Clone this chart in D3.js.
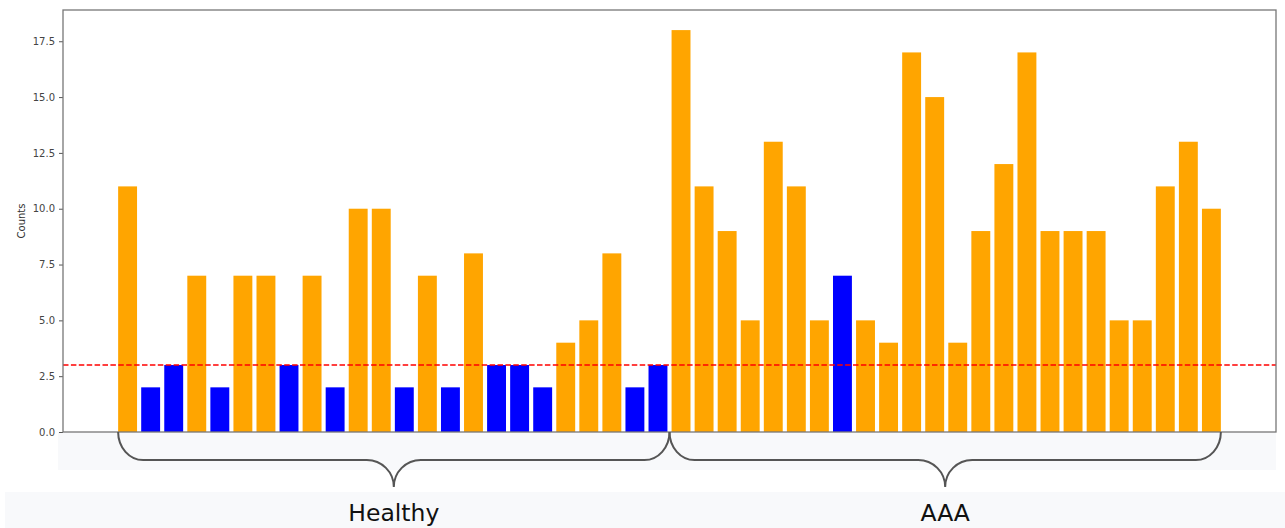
<!DOCTYPE html>
<html>
<head>
<meta charset="utf-8">
<script src="https://cdn.jsdelivr.net/npm/d3@7"></script>
<style>
body{margin:0;background:#fff;}
svg text{font-family:"DejaVu Sans",sans-serif;}
</style>
</head>
<body>
<div id="chart"></div>
<script>
// counts per subject, in plotted order
var healthyCounts = [11,2,3,7,2,7,7,3,7,2,10,10,2,7,2,8,3,3,2,4,5,8,2,3];
var aaaCounts = [18,11,9,5,13,11,5,7,5,4,17,15,4,9,12,17,9,9,9,5,5,11,13,10];
// 1 = flagged (blue), 0 = normal (orange)
var healthyFlag = [0,1,1,0,1,0,0,1,0,1,0,0,1,0,1,0,1,1,1,0,0,0,1,1];
var aaaFlag = [0,0,0,0,0,0,0,1,0,0,0,0,0,0,0,0,0,0,0,0,0,0,0,0];
var groups = ["Healthy","AAA"];
var threshold = 3;
var yTicks = [0,2.5,5,7.5,10,12.5,15,17.5];

var W = 1285, H = 528;
var margin = {left:63, right:9, top:10, bottom:96};

var bars = [];
healthyCounts.forEach(function(v,i){ bars.push({v:v, flag:healthyFlag[i], g:0}); });
aaaCounts.forEach(function(v,i){ bars.push({v:v, flag:aaaFlag[i], g:1}); });
var n = bars.length;
var bw = 0.82;

var svg = d3.select("#chart").append("svg")
  .attr("width", W).attr("height", H);

var plotBottom = H - margin.bottom;

// x in bar-index units with matplotlib-like 5% margins
var span = (n - 1 + bw);
var pad = span*0.05;
var x = d3.scaleLinear()
  .domain([-bw/2 - pad, n - 1 + bw/2 + pad])
  .range([margin.left, W - margin.right]);

var yMax = d3.max(bars, function(d){return d.v;})*1.05;
var y = d3.scaleLinear()
  .domain([0, yMax])
  .range([plotBottom, margin.top]);

// light backgrounds below the plot
svg.append("rect").attr("x",58).attr("y",plotBottom)
  .attr("width",W - margin.right - 58).attr("height",38).attr("fill","#f8f9fb");
svg.append("rect").attr("x",5).attr("y",492)
  .attr("width",W-5).attr("height",H-492).attr("fill","#f8f9fb");

svg.append("rect")
  .attr("x", margin.left).attr("y", margin.top)
  .attr("width", W - margin.right - margin.left)
  .attr("height", plotBottom - margin.top)
  .attr("fill","#fff");

svg.selectAll(".bar")
  .data(bars)
  .enter()
  .append("rect")
  .attr("class","bar")
  .attr("x", function(d,i){ return x(i - bw/2); })
  .attr("width", function(d,i){ return x(i + bw/2) - x(i - bw/2); })
  .attr("y", function(d){ return y(d.v); })
  .attr("height", function(d){ return plotBottom - y(d.v); })
  .attr("fill", function(d){ return d.flag ? "#0000ff" : "#ffa500"; });

// threshold line
svg.append("line")
  .attr("x1", margin.left).attr("x2", W - margin.right)
  .attr("y1", y(threshold)).attr("y2", y(threshold))
  .attr("stroke","#ff0000").attr("stroke-width",1.5)
  .attr("stroke-dasharray","5.5,2.4");

// y axis
var yAxis = svg.append("g")
  .attr("transform","translate(" + margin.left + ",0)")
  .call(d3.axisLeft(y).tickValues(yTicks).tickFormat(d3.format(".1f")).tickSize(4).tickPadding(4));
yAxis.select(".domain").remove();
yAxis.selectAll("line").attr("stroke","#555");
yAxis.selectAll("text").attr("font-size",10).attr("fill","#444")
  .style("font-family","DejaVu Sans, sans-serif");

svg.append("text")
  .attr("transform","translate(25," + ((margin.top + plotBottom)/2) + ") rotate(-90)")
  .attr("text-anchor","middle")
  .attr("font-size",10).attr("fill","#333")
  .text("Counts");

// frame
svg.append("rect")
  .attr("x", margin.left).attr("y", margin.top)
  .attr("width", W - margin.right - margin.left)
  .attr("height", plotBottom - margin.top)
  .attr("fill","none").attr("stroke","#777").attr("stroke-width",1.3);

// group braces
function brace(x0, x1){
  var y0 = plotBottom, ym = 460, yt = 487;
  var r = 25, r2 = 27, xm = (x0 + x1)/2;
  return "M" + x0 + "," + y0 +
    " A" + r + "," + (ym - y0) + " 0 0 0 " + (x0 + r) + "," + ym +
    " L" + (xm - r2) + "," + ym +
    " A" + r2 + "," + (yt - ym) + " 0 0 1 " + xm + "," + yt +
    " A" + r2 + "," + (yt - ym) + " 0 0 1 " + (xm + r2) + "," + ym +
    " L" + (x1 - r) + "," + ym +
    " A" + r + "," + (ym - y0) + " 0 0 0 " + x1 + "," + y0;
}

var split = healthyCounts.length - 0.5;
groups.forEach(function(g, gi){
  var x0 = gi === 0 ? x(-bw/2) : x(split);
  var x1 = gi === 0 ? x(split) : x(n - 1 + bw/2);
  svg.append("path")
    .attr("d", brace(x0, x1))
    .attr("fill","none").attr("stroke","#555").attr("stroke-width",2);
  svg.append("text")
    .attr("x", (x0 + x1)/2).attr("y", 521)
    .attr("text-anchor","middle")
    .attr("font-size",23.5).attr("fill","#111")
    .text(g);
});
</script>
</body>
</html>
